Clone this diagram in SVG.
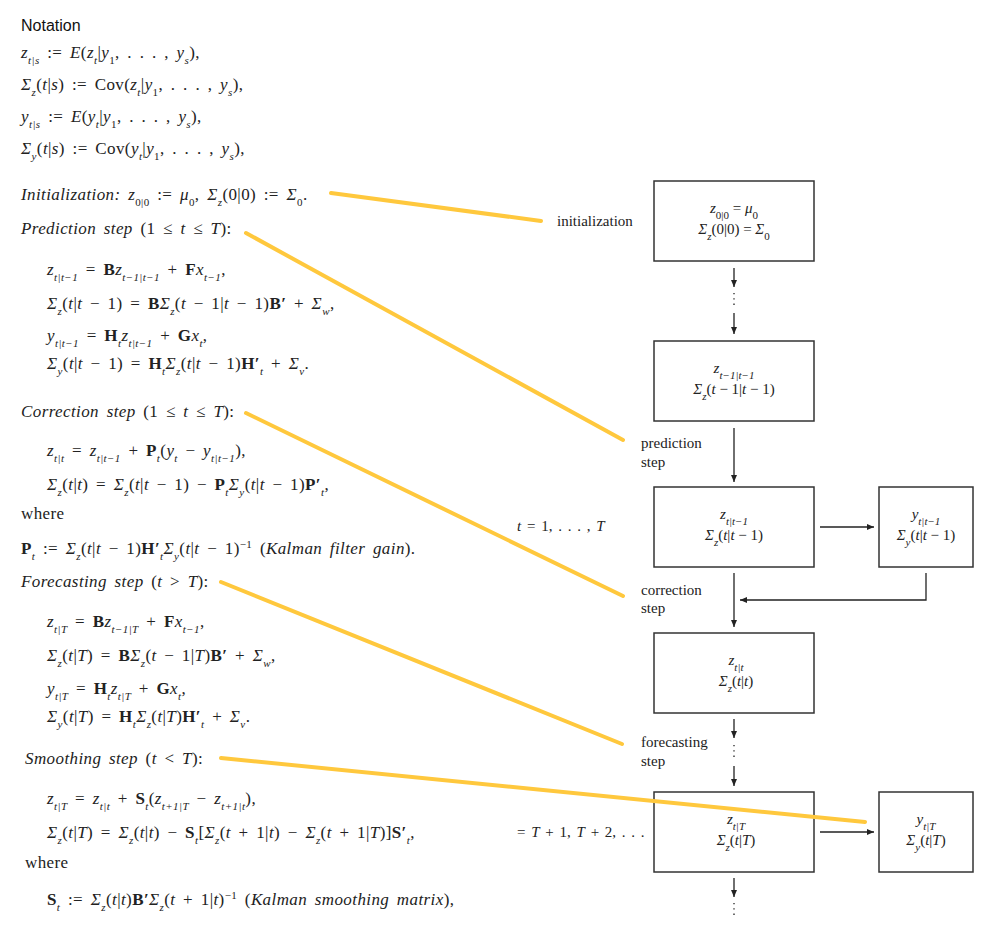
<svg xmlns="http://www.w3.org/2000/svg" width="1000" height="936" viewBox="0 0 1000 936">
<style>
text{font-family:"Liberation Serif","DejaVu Serif",serif;font-size:15px;fill:#222}
.eq text{font-size:17px;word-spacing:3px;letter-spacing:0.4px}
.i{font-style:italic}.b{font-weight:bold}
.s{font-size:11px}
.sans{font-family:"Liberation Sans",Arial,sans-serif;font-size:16px;fill:#111}
.c{text-anchor:middle}
.box{fill:#fff;stroke:#333;stroke-width:1.5}
.ln{stroke:#222;stroke-width:1.3;fill:none}
.hl{stroke:#FFC83D;stroke-width:4;stroke-linecap:round;fill:none}
.dot{stroke:#222;stroke-width:1.3;stroke-dasharray:1.3 4;fill:none}
</style>
<defs><marker id="a" markerWidth="8" markerHeight="8" refX="7" refY="4" orient="auto" markerUnits="userSpaceOnUse"><path d="M0,1 L7,4 L0,7 Z" fill="#222"/></marker></defs>
<rect width="1000" height="936" fill="#fff"/>
<text class="sans" x="21" y="31">Notation</text>
<g id="notation" class="eq">
<text x="21" y="58"><tspan class="i">z</tspan><tspan class="s i" baseline-shift="sub">t|s</tspan> := <tspan class="i">E</tspan>(<tspan class="i">z</tspan><tspan class="s i" baseline-shift="sub">t</tspan>|<tspan class="i">y</tspan><tspan class="s" baseline-shift="sub">1</tspan>, . . . , <tspan class="i">y</tspan><tspan class="s i" baseline-shift="sub">s</tspan>),</text>
<text x="21" y="90"><tspan class="i">Σ</tspan><tspan class="s i" baseline-shift="sub">z</tspan>(<tspan class="i">t</tspan>|<tspan class="i">s</tspan>) := Cov(<tspan class="i">z</tspan><tspan class="s i" baseline-shift="sub">t</tspan>|<tspan class="i">y</tspan><tspan class="s" baseline-shift="sub">1</tspan>, . . . , <tspan class="i">y</tspan><tspan class="s i" baseline-shift="sub">s</tspan>),</text>
<text x="21" y="122"><tspan class="i">y</tspan><tspan class="s i" baseline-shift="sub">t|s</tspan> := <tspan class="i">E</tspan>(<tspan class="i">y</tspan><tspan class="s i" baseline-shift="sub">t</tspan>|<tspan class="i">y</tspan><tspan class="s" baseline-shift="sub">1</tspan>, . . . , <tspan class="i">y</tspan><tspan class="s i" baseline-shift="sub">s</tspan>),</text>
<text x="21" y="154"><tspan class="i">Σ</tspan><tspan class="s i" baseline-shift="sub">y</tspan>(<tspan class="i">t</tspan>|<tspan class="i">s</tspan>) := Cov(<tspan class="i">y</tspan><tspan class="s i" baseline-shift="sub">t</tspan>|<tspan class="i">y</tspan><tspan class="s" baseline-shift="sub">1</tspan>, . . . , <tspan class="i">y</tspan><tspan class="s i" baseline-shift="sub">s</tspan>),</text>
</g>
<g id="equations" class="eq">
<text x="21" y="200"><tspan class="i">Initialization:</tspan> <tspan class="i">z</tspan><tspan class="s" baseline-shift="sub">0|0</tspan> := <tspan class="i">μ</tspan><tspan class="s" baseline-shift="sub">0</tspan>,  <tspan class="i">Σ</tspan><tspan class="s i" baseline-shift="sub">z</tspan>(0|0) := <tspan class="i">Σ</tspan><tspan class="s" baseline-shift="sub">0</tspan>.</text>
<text x="21" y="234"><tspan class="i">Prediction step</tspan> (1 ≤ <tspan class="i">t</tspan> ≤ <tspan class="i">T</tspan>):</text>
<text x="47" y="275"><tspan class="i">z</tspan><tspan class="s i" baseline-shift="sub">t|t−1</tspan> = <tspan class="b">B</tspan><tspan class="i">z</tspan><tspan class="s i" baseline-shift="sub">t−1|t−1</tspan> + <tspan class="b">F</tspan><tspan class="i">x</tspan><tspan class="s i" baseline-shift="sub">t−1</tspan>,</text>
<text x="47" y="309"><tspan class="i">Σ</tspan><tspan class="s i" baseline-shift="sub">z</tspan>(<tspan class="i">t</tspan>|<tspan class="i">t</tspan> − 1) = <tspan class="b">B</tspan><tspan class="i">Σ</tspan><tspan class="s i" baseline-shift="sub">z</tspan>(<tspan class="i">t</tspan> − 1|<tspan class="i">t</tspan> − 1)<tspan class="b">B′</tspan> + <tspan class="i">Σ</tspan><tspan class="s i" baseline-shift="sub">w</tspan>,</text>
<text x="47" y="341"><tspan class="i">y</tspan><tspan class="s i" baseline-shift="sub">t|t−1</tspan> = <tspan class="b">H</tspan><tspan class="s i" baseline-shift="sub">t</tspan><tspan class="i">z</tspan><tspan class="s i" baseline-shift="sub">t|t−1</tspan> + <tspan class="b">G</tspan><tspan class="i">x</tspan><tspan class="s i" baseline-shift="sub">t</tspan>,</text>
<text x="47" y="369"><tspan class="i">Σ</tspan><tspan class="s i" baseline-shift="sub">y</tspan>(<tspan class="i">t</tspan>|<tspan class="i">t</tspan> − 1) = <tspan class="b">H</tspan><tspan class="s i" baseline-shift="sub">t</tspan><tspan class="i">Σ</tspan><tspan class="s i" baseline-shift="sub">z</tspan>(<tspan class="i">t</tspan>|<tspan class="i">t</tspan> − 1)<tspan class="b">H′</tspan><tspan class="s i" baseline-shift="sub">t</tspan> + <tspan class="i">Σ</tspan><tspan class="s i" baseline-shift="sub">v</tspan>.</text>
<text x="21" y="417"><tspan class="i">Correction step</tspan> (1 ≤ <tspan class="i">t</tspan> ≤ <tspan class="i">T</tspan>):</text>
<text x="47" y="456"><tspan class="i">z</tspan><tspan class="s i" baseline-shift="sub">t|t</tspan> = <tspan class="i">z</tspan><tspan class="s i" baseline-shift="sub">t|t−1</tspan> + <tspan class="b">P</tspan><tspan class="s i" baseline-shift="sub">t</tspan>(<tspan class="i">y</tspan><tspan class="s i" baseline-shift="sub">t</tspan> − <tspan class="i">y</tspan><tspan class="s i" baseline-shift="sub">t|t−1</tspan>),</text>
<text x="47" y="490"><tspan class="i">Σ</tspan><tspan class="s i" baseline-shift="sub">z</tspan>(<tspan class="i">t</tspan>|<tspan class="i">t</tspan>) = <tspan class="i">Σ</tspan><tspan class="s i" baseline-shift="sub">z</tspan>(<tspan class="i">t</tspan>|<tspan class="i">t</tspan> − 1) − <tspan class="b">P</tspan><tspan class="s i" baseline-shift="sub">t</tspan><tspan class="i">Σ</tspan><tspan class="s i" baseline-shift="sub">y</tspan>(<tspan class="i">t</tspan>|<tspan class="i">t</tspan> − 1)<tspan class="b">P′</tspan><tspan class="s i" baseline-shift="sub">t</tspan>,</text>
<text x="21" y="519">where</text>
<text x="21" y="554"><tspan class="b">P</tspan><tspan class="s i" baseline-shift="sub">t</tspan> := <tspan class="i">Σ</tspan><tspan class="s i" baseline-shift="sub">z</tspan>(<tspan class="i">t</tspan>|<tspan class="i">t</tspan> − 1)<tspan class="b">H′</tspan><tspan class="s i" baseline-shift="sub">t</tspan><tspan class="i">Σ</tspan><tspan class="s i" baseline-shift="sub">y</tspan>(<tspan class="i">t</tspan>|<tspan class="i">t</tspan> − 1)<tspan class="s" baseline-shift="super">−1</tspan>   (<tspan class="i">Kalman filter gain</tspan>).</text>
<text x="21" y="587"><tspan class="i">Forecasting step</tspan> (<tspan class="i">t</tspan> &gt; <tspan class="i">T</tspan>):</text>
<text x="47" y="627"><tspan class="i">z</tspan><tspan class="s i" baseline-shift="sub">t|T</tspan> = <tspan class="b">B</tspan><tspan class="i">z</tspan><tspan class="s i" baseline-shift="sub">t−1|T</tspan> + <tspan class="b">F</tspan><tspan class="i">x</tspan><tspan class="s i" baseline-shift="sub">t−1</tspan>,</text>
<text x="47" y="661"><tspan class="i">Σ</tspan><tspan class="s i" baseline-shift="sub">z</tspan>(<tspan class="i">t</tspan>|<tspan class="i">T</tspan>) = <tspan class="b">B</tspan><tspan class="i">Σ</tspan><tspan class="s i" baseline-shift="sub">z</tspan>(<tspan class="i">t</tspan> − 1|<tspan class="i">T</tspan>)<tspan class="b">B′</tspan> + <tspan class="i">Σ</tspan><tspan class="s i" baseline-shift="sub">w</tspan>,</text>
<text x="47" y="694"><tspan class="i">y</tspan><tspan class="s i" baseline-shift="sub">t|T</tspan> = <tspan class="b">H</tspan><tspan class="s i" baseline-shift="sub">t</tspan><tspan class="i">z</tspan><tspan class="s i" baseline-shift="sub">t|T</tspan> + <tspan class="b">G</tspan><tspan class="i">x</tspan><tspan class="s i" baseline-shift="sub">t</tspan>,</text>
<text x="47" y="722"><tspan class="i">Σ</tspan><tspan class="s i" baseline-shift="sub">y</tspan>(<tspan class="i">t</tspan>|<tspan class="i">T</tspan>) = <tspan class="b">H</tspan><tspan class="s i" baseline-shift="sub">t</tspan><tspan class="i">Σ</tspan><tspan class="s i" baseline-shift="sub">z</tspan>(<tspan class="i">t</tspan>|<tspan class="i">T</tspan>)<tspan class="b">H′</tspan><tspan class="s i" baseline-shift="sub">t</tspan> + <tspan class="i">Σ</tspan><tspan class="s i" baseline-shift="sub">v</tspan>.</text>
<text x="25" y="764"><tspan class="i">Smoothing step</tspan> (<tspan class="i">t</tspan> &lt; <tspan class="i">T</tspan>):</text>
<text x="47" y="804"><tspan class="i">z</tspan><tspan class="s i" baseline-shift="sub">t|T</tspan> = <tspan class="i">z</tspan><tspan class="s i" baseline-shift="sub">t|t</tspan> + <tspan class="b">S</tspan><tspan class="s i" baseline-shift="sub">t</tspan>(<tspan class="i">z</tspan><tspan class="s i" baseline-shift="sub">t+1|T</tspan> − <tspan class="i">z</tspan><tspan class="s i" baseline-shift="sub">t+1|t</tspan>),</text>
<text x="47" y="838"><tspan class="i">Σ</tspan><tspan class="s i" baseline-shift="sub">z</tspan>(<tspan class="i">t</tspan>|<tspan class="i">T</tspan>) = <tspan class="i">Σ</tspan><tspan class="s i" baseline-shift="sub">z</tspan>(<tspan class="i">t</tspan>|<tspan class="i">t</tspan>) − <tspan class="b">S</tspan><tspan class="s i" baseline-shift="sub">t</tspan>[<tspan class="i">Σ</tspan><tspan class="s i" baseline-shift="sub">z</tspan>(<tspan class="i">t</tspan> + 1|<tspan class="i">t</tspan>) − <tspan class="i">Σ</tspan><tspan class="s i" baseline-shift="sub">z</tspan>(<tspan class="i">t</tspan> + 1|<tspan class="i">T</tspan>)]<tspan class="b">S′</tspan><tspan class="s i" baseline-shift="sub">t</tspan>,</text>
<text x="25" y="868">where</text>
<text x="47" y="905"><tspan class="b">S</tspan><tspan class="s i" baseline-shift="sub">t</tspan> := <tspan class="i">Σ</tspan><tspan class="s i" baseline-shift="sub">z</tspan>(<tspan class="i">t</tspan>|<tspan class="i">t</tspan>)<tspan class="b">B′</tspan><tspan class="i">Σ</tspan><tspan class="s i" baseline-shift="sub">z</tspan>(<tspan class="i">t</tspan> + 1|<tspan class="i">t</tspan>)<tspan class="s" baseline-shift="super">−1</tspan>   (<tspan class="i">Kalman smoothing matrix</tspan>),</text>
</g>
<g id="labels">
<text x="557" y="226" font-size="14">initialization</text>
<text x="641" y="448" font-size="14">prediction</text><text x="641" y="467" font-size="14">step</text>
<text x="517" y="531" font-size="16" word-spacing="2"><tspan class="i">t</tspan> = 1, . . . , <tspan class="i">T</tspan></text>
<text x="641" y="595" font-size="14">correction</text><text x="641" y="613" font-size="14">step</text>
<text x="641" y="747" font-size="14">forecasting</text><text x="641" y="766" font-size="14">step</text>
<text x="517" y="837" font-size="16" word-spacing="2">= <tspan class="i">T</tspan> + 1, <tspan class="i">T</tspan> + 2, . . .</text>
</g>
<g id="n1"><rect class="box" x="654" y="181" width="160" height="80"/>
<text class="c" x="734" y="213" font-size="13"><tspan class="i">z</tspan><tspan class="s" font-size="9" baseline-shift="sub">0|0</tspan> = <tspan class="i">μ</tspan><tspan class="s" font-size="9" baseline-shift="sub">0</tspan></text>
<text class="c" x="734" y="234" font-size="16"><tspan class="i">Σ</tspan><tspan class="s i" baseline-shift="sub">z</tspan>(0|0) = <tspan class="i">Σ</tspan><tspan class="s" baseline-shift="sub">0</tspan></text></g>
<g id="n2"><rect class="box" x="654" y="341" width="160" height="80"/>
<text class="c" x="734" y="373" font-size="13"><tspan class="i">z</tspan><tspan class="s i" font-size="9" baseline-shift="sub">t−1|t−1</tspan></text>
<text class="c" x="734" y="394" font-size="16"><tspan class="i">Σ</tspan><tspan class="s i" baseline-shift="sub">z</tspan>(<tspan class="i">t</tspan> − 1|<tspan class="i">t</tspan> − 1)</text></g>
<g id="n3"><rect class="box" x="654" y="487" width="160" height="80"/>
<text class="c" x="734" y="519" font-size="13"><tspan class="i">z</tspan><tspan class="s i" font-size="9" baseline-shift="sub">t|t−1</tspan></text>
<text class="c" x="734" y="540" font-size="16"><tspan class="i">Σ</tspan><tspan class="s i" baseline-shift="sub">z</tspan>(<tspan class="i">t</tspan>|<tspan class="i">t</tspan> − 1)</text></g>
<g id="n4"><rect class="box" x="879" y="487" width="94" height="80"/>
<text class="c" x="926" y="519" font-size="13"><tspan class="i">y</tspan><tspan class="s i" font-size="9" baseline-shift="sub">t|t−1</tspan></text>
<text class="c" x="926" y="540" font-size="16"><tspan class="i">Σ</tspan><tspan class="s i" baseline-shift="sub">y</tspan>(<tspan class="i">t</tspan>|<tspan class="i">t</tspan> − 1)</text></g>
<g id="n5"><rect class="box" x="654" y="633" width="160" height="80"/>
<text class="c" x="736" y="665" font-size="13"><tspan class="i">z</tspan><tspan class="s i" font-size="9" baseline-shift="sub">t|t</tspan></text>
<text class="c" x="736" y="686" font-size="16"><tspan class="i">Σ</tspan><tspan class="s i" baseline-shift="sub">z</tspan>(<tspan class="i">t</tspan>|<tspan class="i">t</tspan>)</text></g>
<g id="n6"><rect class="box" x="654" y="792" width="160" height="80"/>
<text class="c" x="736" y="824" font-size="13"><tspan class="i">z</tspan><tspan class="s i" font-size="9" baseline-shift="sub">t|T</tspan></text>
<text class="c" x="736" y="845" font-size="16"><tspan class="i">Σ</tspan><tspan class="s i" baseline-shift="sub">z</tspan>(<tspan class="i">t</tspan>|<tspan class="i">T</tspan>)</text></g>
<g id="n7"><rect class="box" x="879" y="792" width="94" height="80"/>
<text class="c" x="926" y="824" font-size="13"><tspan class="i">y</tspan><tspan class="s i" font-size="9" baseline-shift="sub">t|T</tspan></text>
<text class="c" x="926" y="845" font-size="16"><tspan class="i">Σ</tspan><tspan class="s i" baseline-shift="sub">y</tspan>(<tspan class="i">t</tspan>|<tspan class="i">T</tspan>)</text></g>
<g id="connectors">
<path class="ln" d="M734,268 V287" marker-end="url(#a)"/>
<path class="dot" d="M734,293 V307"/>
<path class="ln" d="M734,313 V334" marker-end="url(#a)"/>
<path class="ln" d="M734,428 V482" marker-end="url(#a)"/>
<path class="ln" d="M820,527 H874" marker-end="url(#a)"/>
<path class="ln" d="M926,573 V600 H740" marker-end="url(#a)"/>
<path class="ln" d="M734,573 V627" marker-end="url(#a)"/>
<path class="ln" d="M734,719 V738" marker-end="url(#a)"/>
<path class="dot" d="M734,745 V760"/>
<path class="ln" d="M734,766 V786" marker-end="url(#a)"/>
<path class="ln" d="M820,832 H874" marker-end="url(#a)"/>
<path class="ln" d="M734,878 V897" marker-end="url(#a)"/>
<path class="dot" d="M734,903 V918"/>
</g>
<g id="highlights">
<path class="hl" d="M331,193 L541,221"/>
<path class="hl" d="M246,233 L623,440"/>
<path class="hl" d="M246,413 L623,596"/>
<path class="hl" d="M221,582 L622,744"/>
<path class="hl" d="M221,758 L865,822"/>
</g>
</svg>
